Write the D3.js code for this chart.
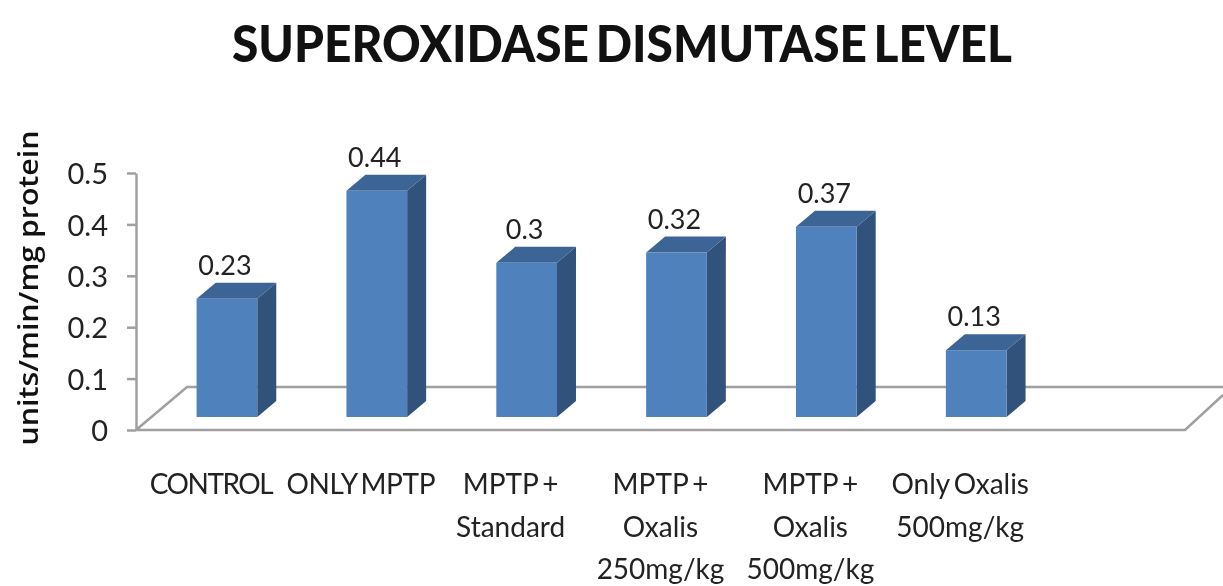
<!DOCTYPE html>
<html>
<head>
<meta charset="utf-8">
<script src="https://cdn.jsdelivr.net/npm/d3@7"></script>
<style>
  html, body { margin: 0; padding: 0; background: #fff; overflow: hidden; }
  text { font-family: Lato, sans-serif; fill: #222; }
  svg { filter: blur(0.5px); }
</style>
</head>
<body>
<div id="vis"></div>
<script>
// Superoxidase dismutase: Excel-style 3D columns, drawn by hand from scales.
const CATEGORIES = ["CONTROL", "ONLY MPTP", "MPTP + Standard", "MPTP + Oxalis 250mg/kg", "MPTP + Oxalis 500mg/kg", "Only Oxalis 500mg/kg", ""];
const CATEGORY_LINES = [
  ["CONTROL"],
  ["ONLY MPTP"],
  ["MPTP +", "Standard"],
  ["MPTP +", "Oxalis", "250mg/kg"],
  ["MPTP +", "Oxalis", "500mg/kg"],
  ["Only Oxalis", "500mg/kg"],
  [],
];
const VALUES = [0.23, 0.44, 0.3, 0.32, 0.37, 0.13];
const Y_TICKS = [0, 0.1, 0.2, 0.3, 0.4, 0.5];

const W = 1223, H = 586;
const BASE_Y = 430, TOP_Y = 173, LEFT_X = 136, RIGHT_X = 1185;
const FLOOR_DX = 51, FLOOR_DY = 43;   // full floor depth
const BAR_DX = 16, BAR_DY = 13;       // front face offset from floor front edge
const SIDE_DX = 19, SIDE_DY = 16;     // column depth

const svg = d3.select("#vis").append("svg").attr("width", W).attr("height", H);

const x = d3.scaleBand().domain(CATEGORIES).range([LEFT_X, RIGHT_X]).paddingInner(0.595).paddingOuter(0.2975);
const y = d3.scaleLinear().domain([0, 0.5]).range([BASE_Y, TOP_Y]);

// title
svg.append("text")
  .attr("x", 622).attr("y", 62)
  .attr("text-anchor", "middle")
  .attr("textLength", 780).attr("lengthAdjust", "spacingAndGlyphs")
  .style("font-size", "51px").style("font-weight", 900).style("fill", "#111")
  .style("word-spacing", "-5px")
  .text("SUPEROXIDASE DISMUTASE LEVEL");

// floor
const AXIS = "#a0a0a0";
svg.append("path")
  .attr("d", `M${LEFT_X},${BASE_Y} L${LEFT_X + FLOOR_DX},${BASE_Y - FLOOR_DY} L${W},${BASE_Y - FLOOR_DY}
              M${LEFT_X},${BASE_Y} L${RIGHT_X},${BASE_Y} L${W},${BASE_Y - 35}`)
  .attr("fill", "none").attr("stroke", AXIS).attr("stroke-width", 2.5);

// y axis
const yAxis = svg.append("g")
  .attr("transform", `translate(${LEFT_X},0)`)
  .call(d3.axisLeft(y).tickValues(Y_TICKS).tickFormat(d3.format("")).tickSize(9).tickSizeOuter(0).tickPadding(19));
yAxis.select(".domain").attr("stroke", AXIS).attr("stroke-width", 2.5);
yAxis.selectAll(".tick line").attr("stroke", AXIS).attr("stroke-width", 2.5);
yAxis.selectAll("text")
  .attr("dy", "0.37em")
  .style("font-size", "29px").style("font-family", "Lato, sans-serif").style("fill", "#222");

svg.append("text")
  .attr("transform", "rotate(-90)")
  .attr("x", -288).attr("y", 38)
  .attr("text-anchor", "middle")
  .attr("textLength", 315).attr("lengthAdjust", "spacingAndGlyphs")
  .style("font-family", "'Open Sans', sans-serif")
  .style("font-size", "27px").style("font-weight", 600).style("fill", "#111")
  .text("units/min/mg protein");

// columns
const bars = svg.append("g").selectAll("g")
  .data(VALUES.map((v, i) => ({ v, c: CATEGORIES[i] })))
  .join("g");

const front = d => ({
  x0: x(d.c) + BAR_DX,
  x1: x(d.c) + BAR_DX + x.bandwidth(),
  y0: y(d.v) - BAR_DY,
  y1: BASE_Y - BAR_DY,
});

bars.append("path")
  .attr("fill", "#31527b")
  .attr("d", d => { const f = front(d);
    return `M${f.x1},${f.y0} l${SIDE_DX},${-SIDE_DY} L${f.x1 + SIDE_DX},${f.y1 - SIDE_DY} L${f.x1},${f.y1} Z`; });
bars.append("path")
  .attr("fill", "#3c6494")
  .attr("d", d => { const f = front(d);
    return `M${f.x0},${f.y0} l${SIDE_DX},${-SIDE_DY} L${f.x1 + SIDE_DX},${f.y0 - SIDE_DY} L${f.x1},${f.y0} Z`; });
bars.append("rect")
  .attr("fill", "#4f81bd")
  .attr("x", d => front(d).x0)
  .attr("y", d => front(d).y0)
  .attr("width", x.bandwidth())
  .attr("height", d => front(d).y1 - front(d).y0);

// value labels
bars.append("text")
  .attr("x", d => front(d).x0 + x.bandwidth() / 2 - 2)
  .attr("y", d => front(d).y0 - 24)
  .attr("text-anchor", "middle")
  .style("font-size", "27px")
  .text(d => d.v);

// category labels (the all-caps ones run narrower in the original)
svg.append("g").selectAll("text")
  .data(CATEGORIES.map((c, i) => ({ c, lines: CATEGORY_LINES[i] })))
  .join("text")
  .attr("text-anchor", "middle")
  .style("font-size", "28px")
  .style("word-spacing", "-3px")
  .style("letter-spacing", d => d.c === "CONTROL" ? "-1.5px" : d.c === "ONLY MPTP" ? "-0.4px" : null)
  .each(function (d) {
    d3.select(this).selectAll("tspan")
      .data(d.lines)
      .join("tspan")
      .attr("x", x(d.c) + x.bandwidth() / 2)
      .attr("y", (l, i) => 494 + i * 42.5)
      .text(l => l);
  });
</script>
</body>
</html>
